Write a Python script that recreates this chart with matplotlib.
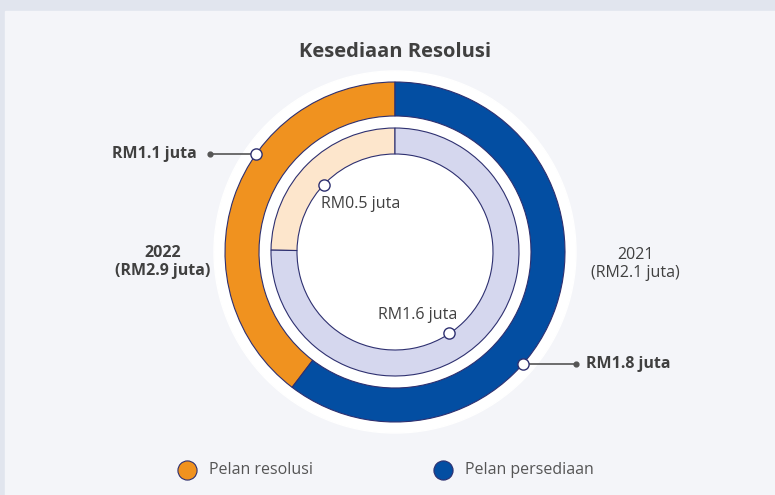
import numpy as np
import matplotlib.pyplot as plt
from matplotlib.patches import Rectangle, Circle

plt.rcParams['font.family'] = ['Open Sans', 'DejaVu Sans']

title = "Kesediaan Resolusi"
series = ["Pelan resolusi", "Pelan persediaan"]
vals_2022 = [1.15, 1.75]
vals_2021 = [0.52, 1.58]
labels_2022 = ["RM1.1 juta", "RM1.8 juta"]
labels_2021 = ["RM0.5 juta", "RM1.6 juta"]
year_2022 = "2022\n(RM2.9 juta)"
year_2021 = "2021\n(RM2.1 juta)"

outer_cols = ["#f0921f", "#034ea2"]
inner_cols = ["#fde6cc", "#d5d7ee"]
edge = "#2e3070"
txt = "#404040"

fig = plt.figure(figsize=(7.75, 4.95), dpi=100, facecolor="#e1e5ee")
ax = fig.add_axes([0, 0, 1, 1])
ax.set_facecolor("#e1e5ee")

# panel + white halo
ax.add_patch(Rectangle((5, 0), 775, 484, color="#f4f5f9", zorder=0))
cx, cy = 395, 243
ax.add_patch(Circle((cx, cy), 181, color="white", zorder=1))

R_out, W_out = 170, 34
R_in, W_in = 124, 26

w_out, _ = ax.pie(vals_2022, colors=outer_cols, startangle=90, counterclock=True,
                  radius=R_out, center=(cx, cy), frame=True,
                  wedgeprops=dict(width=W_out, edgecolor=edge, linewidth=0.8))
w_in, _ = ax.pie(vals_2021, colors=inner_cols, startangle=90, counterclock=True,
                 radius=R_in, center=(cx, cy), frame=True,
                 wedgeprops=dict(width=W_in, edgecolor=edge, linewidth=0.8))
for w in w_out + w_in:
    w.set_zorder(2)

ax.set_xlim(0, 775)
ax.set_ylim(0, 495)
ax.set_aspect("equal")
ax.axis("off")


def point_on(wedge, frac, r):
    a = np.deg2rad(wedge.theta1 + frac * (wedge.theta2 - wedge.theta1))
    return cx + r * np.cos(a), cy + r * np.sin(a)


def marker(x, y):
    ax.scatter([x], [y], s=65, facecolor="white", edgecolor=edge, linewidth=1.0, zorder=5)


# RM1.1 (outer orange)
x, y = point_on(w_out[0], 0.385, R_out)
ax.plot([210, x], [y, y], color="#555555", lw=1.2, zorder=4)
ax.scatter([210], [y], s=12, color="#555555", zorder=4)
marker(x, y)
ax.text(197, y, labels_2022[0], ha="right", va="center", fontsize=11.5,
        fontweight="bold", color=txt)

# RM1.8 (outer blue)
x, y = point_on(w_out[1], 0.396, R_out)
ax.plot([x, 576], [y, y], color="#555555", lw=1.2, zorder=4)
ax.scatter([576], [y], s=12, color="#555555", zorder=4)
marker(x, y)
ax.text(586, y, labels_2022[1], ha="left", va="center", fontsize=11.5,
        fontweight="bold", color=txt)

# RM0.5 (inner light orange)
x, y = point_on(w_in[0], 0.525, R_in - W_in)
marker(x, y)
ax.text(x + 37, y - 19, labels_2021[0], ha="center", va="center", fontsize=11.5, color=txt)

# RM1.6 (inner lavender)
x, y = point_on(w_in[1], 0.46, R_in - W_in)
marker(x, y)
ax.text(x - 32, y + 18, labels_2021[1], ha="center", va="center", fontsize=11.5, color=txt)

# year labels
ax.text(163, 233, year_2022, ha="center", va="center", fontsize=11.5, fontweight="bold",
        color=txt, linespacing=1.2)
ax.text(635, 231, year_2021, ha="center", va="center", fontsize=11.5, color=txt,
        linespacing=1.2)

# title
ax.text(cx, 443, title, ha="center", va="center", fontsize=14.5, fontweight="bold", color=txt)

# legend
for lx, col, lab, tx in [(187, outer_cols[0], series[0], 209), (443, outer_cols[1], series[1], 465)]:
    ax.scatter([lx], [25], s=190, color=col, edgecolor=edge, linewidth=0.8, zorder=5)
    ax.text(tx, 25, lab, ha="left", va="center", fontsize=11.5, color="#555555")

fig.savefig("out.png", dpi=100, facecolor=fig.get_facecolor())
